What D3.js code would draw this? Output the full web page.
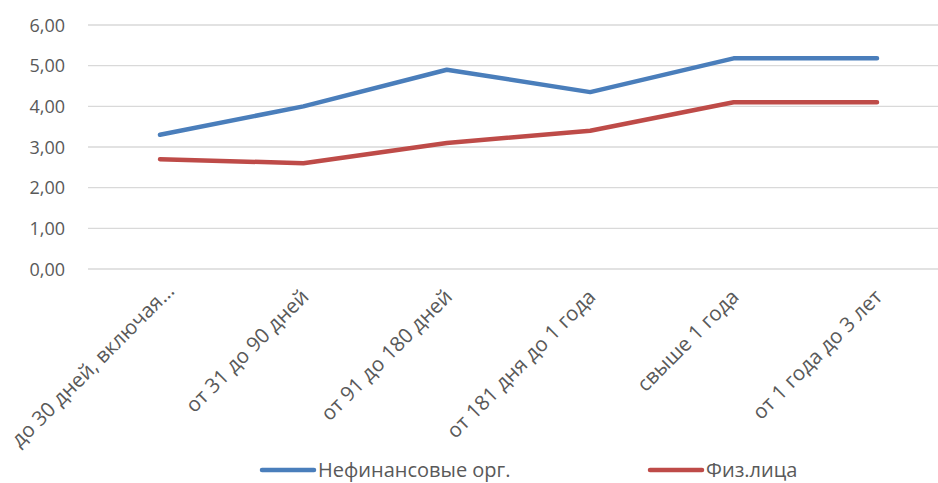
<!DOCTYPE html>
<html>
<head>
<meta charset="utf-8">
<script src="https://cdn.jsdelivr.net/npm/d3@7"></script>
<style>
  body { margin: 0; background: #fff; }
  text { font-family: "Open Sans", sans-serif; fill: #595959; }
</style>
</head>
<body>
<svg id="chart"></svg>
<script>
var categories = ["до 30 дней, включая...", "от 31 до 90 дней", "от 91 до 180 дней",
                  "от 181 дня до 1 года", "свыше 1 года", "от 1 года до 3 лет"];
var nonfin = [3.30, 4.00, 4.90, 4.35, 5.18, 5.18];
var persons = [2.70, 2.60, 3.10, 3.40, 4.10, 4.10];
var seriesNames = ["Нефинансовые орг.", "Физ.лица"];
var yTicks = [0, 1, 2, 3, 4, 5, 6];

var width = 938;
var height = 483;

var svg = d3.select("#chart")
    .attr("width", width)
    .attr("height", height);

var x = d3.scalePoint()
    .domain(categories)
    .range([160, 877]);

var y = d3.scaleLinear()
    .domain([0, 6])
    .range([269, 25]);

var fmt = function(d) { return d3.format(".2f")(d).replace(".", ","); };

// grid
svg.append("g")
    .selectAll("line")
    .data(yTicks)
    .enter().append("line")
    .attr("x1", 88)
    .attr("x2", 948)
    .attr("y1", function(d) { return y(d); })
    .attr("y2", function(d) { return y(d); })
    .attr("stroke", "#d9d9d9")
    .attr("stroke-width", 1.3);

var yAxis = svg.append("g")
    .attr("transform", "translate(65,0)")
    .call(d3.axisLeft(y).tickValues(yTicks).tickFormat(fmt).tickSize(0).tickPadding(0));
yAxis.select(".domain").remove();
yAxis.selectAll("text")
    .attr("font-size", 18)
    .attr("font-family", null)
    .attr("dy", "0.35em");

var xAxis = svg.append("g")
    .attr("transform", "translate(0,269)")
    .call(d3.axisBottom(x).tickSize(0).tickPadding(0));
xAxis.select(".domain").remove();
xAxis.selectAll("text")
    .attr("font-size", 20.5)
    .attr("font-family", null)
    .attr("text-anchor", "end")
    .attr("y", 0)
    .attr("transform", function(d, i) {
        return "translate(" + (i === 0 ? 10 : 1) + "," + (i === 0 ? 18 : 24) + ") rotate(-45)";
    })
    .attr("dy", "0.35em");

var line = d3.line()
    .x(function(d, i) { return x(categories[i]); })
    .y(function(d) { return y(d); });

var colors = ["#4a7ebb", "#be4b48"];
[nonfin, persons].forEach(function(s, i) {
    svg.append("path")
        .datum(s)
        .attr("d", line)
        .attr("fill", "none")
        .attr("stroke", colors[i])
        .attr("stroke-width", 4.5)
        .attr("stroke-linejoin", "round")
        .attr("stroke-linecap", "round");
});

// legend
var legendX = [262, 650];
seriesNames.forEach(function(name, i) {
    var g = svg.append("g").attr("transform", "translate(" + legendX[i] + ",470)");
    g.append("line")
        .attr("x1", 0).attr("x2", 52)
        .attr("stroke", colors[i])
        .attr("stroke-width", 4.5)
        .attr("stroke-linecap", "round");
    g.append("text")
        .attr("x", 56)
        .attr("dy", "0.35em")
        .attr("font-size", 20)
        .text(name);
});
</script>
</body>
</html>
